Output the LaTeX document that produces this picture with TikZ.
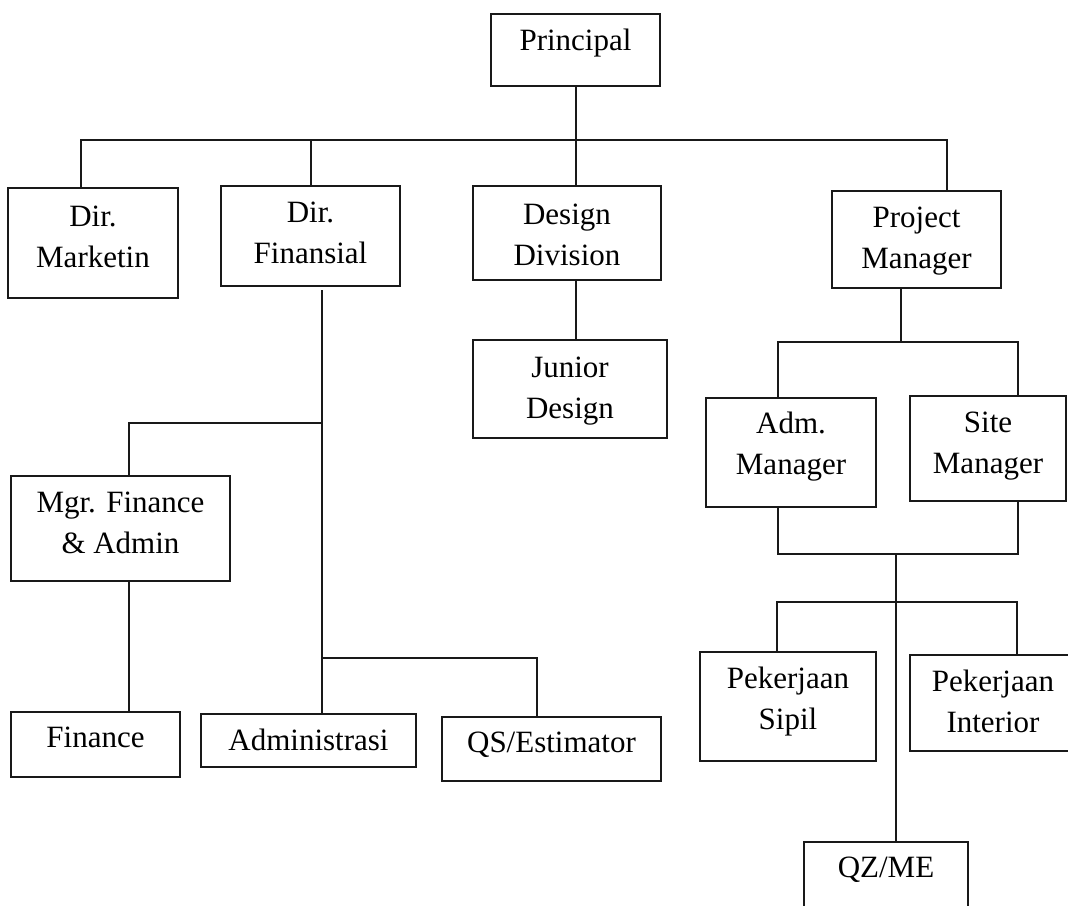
\documentclass[tikz,border=0pt]{standalone}
\usepackage{fontspec}
\setmainfont{Liberation Serif}
\usetikzlibrary{positioning}
\colorlet{penColor}{black!90}

\tikzset{
  box/.style={draw=penColor, line width=2pt, inner sep=0pt},
  txt/.style={align=center, inner sep=0pt, font=\fontsize{31}{41}\selectfont},
  link/.style={draw=penColor, line width=2pt}
}

\begin{document}
\begin{tikzpicture}[x=1pt,y=-1pt]
    \useasboundingbox (0,0) rectangle (1068,905);

    \node (principal) at (575.5,50) [box, minimum width=169pt, minimum height=72pt] {};
    \node [txt, below=16pt of principal.north] {Principal};

    \node (marketing) at (93,243) [box, minimum width=170pt, minimum height=110pt] {};
    \node [txt, below=19pt of marketing.north] {Dir.\\Marketin};
    \node (finansial) at (310.5,236) [box, minimum width=179pt, minimum height=100pt] {};
    \node [txt, below=17pt of finansial.north] {Dir.\\Finansial};
    \node (design) at (567,233) [box, minimum width=188pt, minimum height=94pt] {};
    \node [txt, below=19pt of design.north] {Design\\Division};
    \node (junior) at (570,389) [box, minimum width=194pt, minimum height=98pt] {};
    \node [txt, below=18pt of junior.north] {Junior\\Design};
    \node (pm) at (916.5,239.5) [box, minimum width=169pt, minimum height=97pt] {};
    \node [txt, below=17pt of pm.north] {Project\\Manager};

    \node (mgrfin) at (120.5,528.5) [box, minimum width=219pt, minimum height=105pt] {};
    \node [txt, below=17pt of mgrfin.north] {Mgr. Finance\\\& Admin};
    \node (finance) at (95.5,744.5) [box, minimum width=169pt, minimum height=65pt] {};
    \node [txt, below=16pt of finance.north] {Finance};
    \node (admin) at (308.5,740.5) [box, minimum width=215pt, minimum height=53pt] {};
    \node [txt, below=16pt of admin.north] {Administrasi};
    \node (qsest) at (551.5,749) [box, minimum width=219pt, minimum height=64pt] {};
    \node [txt, below=16pt of qsest.north] {QS/Estimator};

    \node (admmgr) at (791,452.5) [box, minimum width=170pt, minimum height=109pt] {};
    \node [txt, below=15pt of admmgr.north] {Adm.\\Manager};
    \node (sitemgr) at (988,448.5) [box, minimum width=156pt, minimum height=105pt] {};
    \node [txt, below=17pt of sitemgr.north] {Site\\Manager};
    \node (sipil) at (788,706.5) [box, minimum width=176pt, minimum height=109pt] {};
    \node [txt, below=16pt of sipil.north] {Pekerjaan\\Sipil};
    \node (interior) at (993,703) [box, minimum width=166pt, minimum height=96pt] {};
    \node [txt, below=16pt of interior.north] {Pekerjaan\\Interior};
    \node (qzme) at (886,886) [box, minimum width=164pt, minimum height=88pt] {};
    \node [txt, below=16pt of qzme.north] {QZ/ME};

    % bus points
    \coordinate (top1) at (81,140);
    \coordinate (top4) at (947,140);
    \coordinate (fin1) at (321.5,290);
    \coordinate (fin2) at (129.4,423);
    \coordinate (fin3) at (537,658);
    \coordinate (pm1) at (901,342);
    \coordinate (pm2) at (778,342);
    \coordinate (pm3) at (1018,342);
    \coordinate (mgr1) at (778,554);
    \coordinate (mgr2) at (1018,554);
    \coordinate (mgr3) at (896,554);
    \coordinate (pek1) at (777,602);
    \coordinate (pek2) at (1016.6,602);

    \draw [link] (principal.south) -- (principal.south |- design.north);
    \draw [link] (top1 |- marketing.north) -- (top1) -- (top4) -- (top4 |- pm.north);
    \draw [link] (finansial.north) -- (finansial.north |- top1);
    \draw [link] (principal.south |- design.south) -- (principal.south |- junior.north);

    \draw [link] (fin1) -- (fin1 |- admin.north);
    \draw [link] (fin1 |- fin2) -- (fin2) -- (fin2 |- mgrfin.north);
    \draw [link] (fin2 |- mgrfin.south) -- (fin2 |- finance.north);
    \draw [link] (fin1 |- fin3) -- (fin3) -- (fin3 |- qsest.north);

    \draw [link] (pm1 |- pm.south) -- (pm1);
    \draw [link] (pm2 |- admmgr.north) -- (pm2) -- (pm3) -- (pm3 |- sitemgr.north);
    \draw [link] (mgr1 |- admmgr.south) -- (mgr1) -- (mgr2) -- (mgr2 |- sitemgr.south);
    \draw [link] (mgr3) -- (mgr3 |- qzme.north);
    \draw [link] (pek1 |- sipil.north) -- (pek1) -- (pek2) -- (pek2 |- interior.north);
\end{tikzpicture}
\end{document}
